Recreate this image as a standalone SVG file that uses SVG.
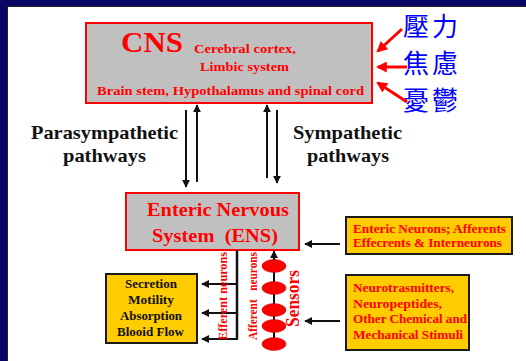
<svg xmlns="http://www.w3.org/2000/svg" width="526" height="361" viewBox="0 0 526 361">
<defs>
<style>
.box{fill:#c0c0c0;stroke:#ff0000;stroke-width:2}
.ybox{fill:#ffcc00;stroke:#1a1a1a;stroke-width:2}
.t{font-family:"Liberation Serif","Times New Roman",serif;font-weight:bold}
.red{fill:#ff0000}
.blk{fill:#111}
.cjk{font-family:"Noto Sans CJK TC","Noto Sans CJK SC",serif;font-size:26px;fill:#0000ff}
.ln{stroke:#111;stroke-width:2;fill:none}
.rln{stroke:#ff0000;stroke-width:3;fill:none}
.oval{fill:#ff0000;stroke:#b00000;stroke-width:0.5}
</style>
<marker id="ah" viewBox="0 0 10 10" refX="9" refY="5" markerWidth="8" markerHeight="8" markerUnits="userSpaceOnUse" orient="auto">
<path d="M0,0 L10,5 L0,10 Z" fill="#111"/>
</marker>
<marker id="rah" viewBox="0 0 10 10" refX="8" refY="5" markerWidth="11" markerHeight="11" markerUnits="userSpaceOnUse" orient="auto">
<path d="M0,0 L10,5 L0,10 Z" fill="#ff0000"/>
</marker>
</defs>
<rect x="0" y="0" width="526" height="361" fill="#ffffff"/>
<rect x="0" y="0" width="526" height="6" fill="#0b0566"/>
<rect x="0" y="0" width="7" height="361" fill="#0b0566"/>
<line x1="7" y1="6.5" x2="526" y2="6.5" stroke="#222" stroke-width="1"/>
<line x1="7.5" y1="6" x2="7.5" y2="361" stroke="#222" stroke-width="1"/>

<g id="cns">
<rect class="box" x="86" y="23" width="286" height="80"/>
<text class="t red" x="121" y="52" font-size="30" textLength="62" lengthAdjust="spacingAndGlyphs">CNS</text>
<text class="t red" x="194" y="53" font-size="13" textLength="102" lengthAdjust="spacingAndGlyphs">Cerebral cortex,</text>
<text class="t red" x="200" y="71" font-size="13" textLength="89" lengthAdjust="spacingAndGlyphs">Limbic system</text>
<text class="t red" x="97" y="95" font-size="13" textLength="267" lengthAdjust="spacingAndGlyphs">Brain stem, Hypothalamus and spinal cord</text>
</g>

<g id="stress">
<text class="cjk" x="403" y="36">壓</text>
<text class="cjk" x="432" y="36">力</text>
<text class="cjk" x="403" y="73">焦</text>
<text class="cjk" x="432" y="73">慮</text>
<text class="cjk" x="403" y="110">憂</text>
<text class="cjk" x="432" y="110">鬱</text>
</g>

<g id="para-label">
<text class="t blk" x="31" y="139" font-size="19" textLength="147" lengthAdjust="spacingAndGlyphs">Parasympathetic</text>
<text class="t blk" x="63" y="162" font-size="19" textLength="83" lengthAdjust="spacingAndGlyphs">pathways</text>
</g>
<g id="symp-label">
<text class="t blk" x="293" y="139" font-size="19" textLength="109" lengthAdjust="spacingAndGlyphs">Sympathetic</text>
<text class="t blk" x="307" y="162" font-size="19" textLength="82" lengthAdjust="spacingAndGlyphs">pathways</text>
</g>

<g id="ens">
<rect class="box" x="126" y="193" width="173" height="57"/>
<text class="t red" x="147" y="216" font-size="18" textLength="142" lengthAdjust="spacingAndGlyphs">Enteric Nervous</text>
<text class="t red" x="152" y="242" font-size="18" textLength="126" lengthAdjust="spacingAndGlyphs" xml:space="preserve">System  (ENS)</text>
</g>

<g id="effects">
<rect class="ybox" x="106" y="274" width="91" height="69"/>
<text class="t blk" x="125" y="288" font-size="13" textLength="52" lengthAdjust="spacingAndGlyphs">Secretion</text>
<text class="t blk" x="128" y="304" font-size="13" textLength="46" lengthAdjust="spacingAndGlyphs">Motility</text>
<text class="t blk" x="120" y="320" font-size="13" textLength="62" lengthAdjust="spacingAndGlyphs">Absorption</text>
<text class="t blk" x="117" y="336" font-size="13" textLength="67" lengthAdjust="spacingAndGlyphs">Blooid Flow</text>
</g>

<g id="neurons-box">
<rect class="ybox" x="346" y="217" width="166" height="37"/>
<text class="t red" x="353" y="233" font-size="13" textLength="153" lengthAdjust="spacingAndGlyphs">Enteric Neurons; Afferents</text>
<text class="t red" x="353" y="247" font-size="13" textLength="149" lengthAdjust="spacingAndGlyphs">Effecrents &amp; Interneurons</text>
</g>

<g id="stimuli-box">
<rect class="ybox" x="346" y="275" width="123" height="75"/>
<text class="t red" x="353" y="292" font-size="13" textLength="101" lengthAdjust="spacingAndGlyphs">Neurotrasmitters,</text>
<text class="t red" x="353" y="308" font-size="13" textLength="89" lengthAdjust="spacingAndGlyphs">Neuropeptides,</text>
<text class="t red" x="353" y="323" font-size="13" textLength="114" lengthAdjust="spacingAndGlyphs">Other Chemical and</text>
<text class="t red" x="353" y="339" font-size="13" textLength="110" lengthAdjust="spacingAndGlyphs">Mechanical Stimuli</text>
</g>

<g id="sensors">
<line x1="274" y1="262" x2="274" y2="343" stroke="#111" stroke-width="2"/>
<ellipse class="oval" cx="274" cy="266" rx="12" ry="6.5"/>
<ellipse class="oval" cx="274" cy="288" rx="12" ry="6.5"/>
<ellipse class="oval" cx="274" cy="310" rx="12" ry="6.5"/>
<ellipse class="oval" cx="274" cy="326" rx="12" ry="6.5"/>
<ellipse class="oval" cx="274" cy="344" rx="12" ry="6.5"/>
<text class="t red" transform="translate(299,327) rotate(-90)" font-size="18" textLength="57" lengthAdjust="spacingAndGlyphs">Sensors</text>
</g>

<g id="connectors">
<line class="rln" x1="402" y1="29" x2="378" y2="51" marker-end="url(#rah)"/>
<line class="rln" x1="407" y1="67" x2="378" y2="67" marker-end="url(#rah)"/>
<line class="rln" x1="407" y1="102" x2="378" y2="83" marker-end="url(#rah)"/>

<line class="ln" x1="186" y1="110" x2="186" y2="187" marker-end="url(#ah)"/>
<line class="ln" x1="197" y1="182" x2="197" y2="105" marker-end="url(#ah)"/>
<line class="ln" x1="267" y1="178" x2="267" y2="105" marker-end="url(#ah)"/>
<line class="ln" x1="277" y1="110" x2="277" y2="183" marker-end="url(#ah)"/>

<line class="ln" x1="340" y1="244" x2="305" y2="244" marker-end="url(#ah)"/>
<line class="ln" x1="340" y1="321" x2="305" y2="321" marker-end="url(#ah)"/>

<path d="M237,250 V339" stroke="#111" stroke-width="2.5" fill="none"/>
<line class="ln" x1="238" y1="284" x2="202" y2="284" marker-end="url(#ah)"/>
<line class="ln" x1="238" y1="313" x2="202" y2="313" marker-end="url(#ah)"/>
<line class="ln" x1="238" y1="339" x2="202" y2="339" marker-end="url(#ah)"/>

<line class="ln" x1="274" y1="260" x2="274" y2="251" marker-end="url(#ah)"/>

<text class="t red" transform="translate(227,340) rotate(-90)" font-size="12" textLength="88" lengthAdjust="spacingAndGlyphs">Efferent neurons</text>
<text class="t red" transform="translate(257,340) rotate(-90)" font-size="12" textLength="88" lengthAdjust="spacingAndGlyphs" xml:space="preserve">Afferent   neurons</text>
</g>
</svg>
